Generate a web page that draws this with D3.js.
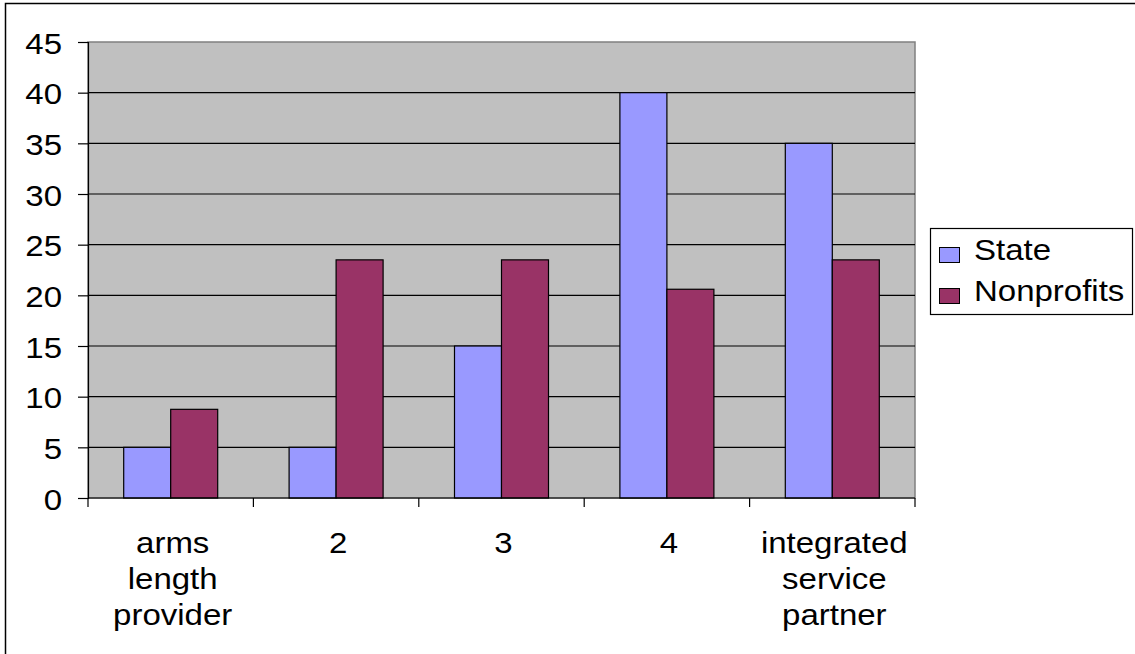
<!DOCTYPE html>
<html>
<head>
<meta charset="utf-8">
<script src="https://cdn.jsdelivr.net/npm/d3@7"></script>
<style>
  html, body { margin: 0; padding: 0; background: #fff; }
  svg { display: block; }
  text { font-family: "Liberation Sans", Arial, sans-serif; fill: #000; }
</style>
</head>
<body>
<svg id="chart" width="1135" height="654"></svg>
<script>
const categories = [["arms", "length", "provider"], ["2"], ["3"], ["4"], ["integrated", "service", "partner"]];
const seriesNames = ["State", "Nonprofits"];
const stateValues = [5, 5, 15, 40, 35];
const nonprofitValues = [8.75, 23.5, 23.5, 20.6, 23.5];
const yTicks = [0, 5, 10, 15, 20, 25, 30, 35, 40, 45];
const colors = ["#9999FF", "#993366"];

const catKeys = categories.map(c => c.join(" "));
const data = catKeys.map((k, i) => ({ key: k, lines: categories[i], values: [stateValues[i], nonprofitValues[i]] }));

const svg = d3.select("#chart");
const L = 88, R = 915, T = 42, B = 498;
const FS = 30, SX = 1.1;

// outer border
svg.append("rect").attr("x", 5.5).attr("y", 3.5).attr("width", 1140).attr("height", 660)
  .attr("fill", "#fff").attr("stroke", "#000").attr("stroke-width", 1.5);

const x0 = d3.scaleBand().domain(catKeys).range([L, R]).paddingInner(0).paddingOuter(0);
const bw = x0.bandwidth();
const x1 = d3.scaleBand().domain(seriesNames).range([bw / 2 - 47, bw / 2 + 47]);
const y = d3.scaleLinear().domain([0, 45]).range([B, T]);

// plot area
svg.append("rect").attr("x", L).attr("y", T).attr("width", R - L).attr("height", B - T)
  .attr("fill", "#C0C0C0").attr("stroke", "#808080").attr("stroke-width", 1.5);

// gridlines
svg.append("g").selectAll("line").data(yTicks.filter(t => t > 0 && t < 45)).join("line")
  .attr("x1", L).attr("x2", R).attr("y1", d => y(d)).attr("y2", d => y(d))
  .attr("stroke", "#000").attr("stroke-width", 1.2);

// bars
const groups = svg.append("g").selectAll("g").data(data).join("g")
  .attr("transform", d => `translate(${x0(d.key)},0)`);
groups.selectAll("rect").data(d => d.values.map((v, i) => ({ v, s: seriesNames[i], i }))).join("rect")
  .attr("x", d => x1(d.s)).attr("width", x1.bandwidth())
  .attr("y", d => y(d.v)).attr("height", d => B - y(d.v))
  .attr("fill", d => colors[d.i]).attr("stroke", "#000").attr("stroke-width", 1.2);

// y axis
const yAxis = d3.axisLeft(y).tickValues(yTicks).tickSize(10).tickFormat(d3.format("d"));
const ya = svg.append("g").attr("transform", `translate(${L},0)`).call(yAxis);
ya.select(".domain").attr("stroke", "#000").attr("stroke-width", 1.2);
ya.selectAll(".tick line").attr("stroke", "#000").attr("stroke-width", 1.2);
ya.selectAll(".tick text").remove();
ya.selectAll(".tick").append("text")
  .attr("transform", `translate(-26,11) scale(${SX},1)`)
  .attr("text-anchor", "end").attr("font-size", FS).attr("fill", "#000")
  .text(d => d);

// x axis
const xa = svg.append("g");
xa.append("line").attr("x1", L).attr("x2", R).attr("y1", B).attr("y2", B).attr("stroke", "#000").attr("stroke-width", 1.2);
const bounds = catKeys.map(k => x0(k)).concat([R]);
xa.selectAll("line.tk").data(bounds).join("line").attr("class", "tk")
  .attr("x1", d => d).attr("x2", d => d).attr("y1", B).attr("y2", B + 9)
  .attr("stroke", "#000").attr("stroke-width", 1.2);
const labels = xa.selectAll("g.lab").data(data).join("g").attr("class", "lab")
  .attr("transform", d => `translate(${x0(d.key) + bw / 2 + 2},0)`);
labels.each(function(d) {
  d3.select(this).selectAll("text").data(d.lines).join("text")
    .attr("transform", (t, i) => `translate(0,${553 + i * 36}) scale(${SX},1)`)
    .attr("text-anchor", "middle").attr("font-size", FS).text(t => t);
});

// legend
const lg = svg.append("g");
lg.append("rect").attr("x", 930.5).attr("y", 228.5).attr("width", 202).attr("height", 86)
  .attr("fill", "#fff").attr("stroke", "#000").attr("stroke-width", 1.2);
const li = lg.selectAll("g.li").data(seriesNames).join("g").attr("class", "li")
  .attr("transform", (d, i) => `translate(0,${i * 41})`);
li.append("rect").attr("x", 939.5).attr("y", 247.5).attr("width", 20).attr("height", 15)
  .attr("fill", (d, i) => colors[i]).attr("stroke", "#000").attr("stroke-width", 1);
li.append("text").attr("transform", `translate(974,260) scale(${SX},1)`)
  .attr("font-size", FS).text(d => d);
</script>
</body>
</html>
